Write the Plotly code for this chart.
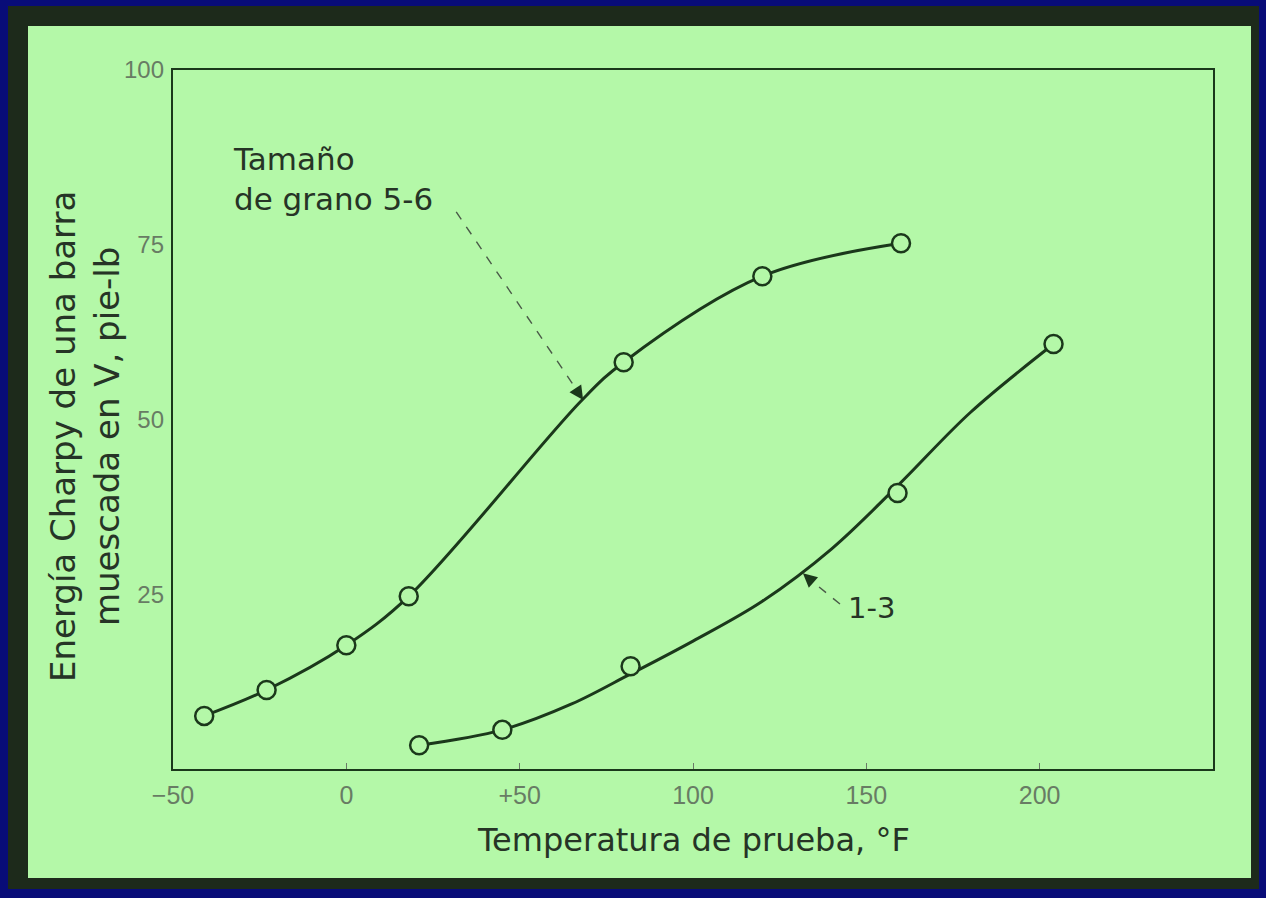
import plotly.graph_objects as go

# ---- data ----
# measured points
temp_5_6 = [-41, -23, 0, 18, 80, 120, 160]
energy_5_6 = [7.6, 11.3, 17.7, 24.7, 58.2, 70.5, 75.2]

temp_1_3 = [21, 45, 82, 159, 204]
energy_1_3 = [3.4, 5.6, 14.7, 39.5, 60.8]

# hand-drawn smooth curves
curve_t_5_6 = [-41, -23, 0, 18, 68, 80, 120, 160]
curve_e_5_6 = [7.6, 11.3, 17.7, 24.7, 52.8, 58.2, 70.5, 75.2]

curve_t_1_3 = [21, 45, 65, 82, 100, 120, 140, 159, 180, 204]
curve_e_1_3 = [3.4, 5.6, 9.3, 13.6, 18.3, 24.0, 31.5, 40.5, 51.0, 60.8]

x_ticks = [-50, 0, 50, 100, 150, 200]
x_ticklabels = ["\u221250", "0", "+50", "100", "150", "200"]
y_ticks = [25, 50, 75, 100]
y_ticklabels = ["25", "50", "75", "100"]

# ---- style ----
W, H = 1266, 898
ML, MR, MT, MB = 173, 53, 70, 129
PW, PH = W - ML - MR, H - MT - MB
NAVY = "#080c78"
GREEN = "#b4f8a8"
EDGE = "#1d2a1b"
INK = "#1b381b"
TXT = "#263426"
TICKTXT = "#687c64"
FONT = "Liberation Sans, Arial, sans-serif"
TFONT = "DejaVu Sans, Verdana, sans-serif"


def px(xp):
    return (xp - ML) / PW


def py(yp):
    return (H - MB - yp) / PH


fig = go.Figure()

for cx, cy in [(curve_t_5_6, curve_e_5_6), (curve_t_1_3, curve_e_1_3)]:
    fig.add_trace(go.Scatter(
        x=cx, y=cy, mode="lines",
        line=dict(color=INK, width=3, shape="spline", smoothing=1.0),
        showlegend=False, hoverinfo="skip"))

for xs, ys in [(temp_5_6, energy_5_6), (temp_1_3, energy_1_3)]:
    fig.add_trace(go.Scatter(
        x=xs, y=ys, mode="markers",
        marker=dict(symbol="circle", size=18, color=GREEN,
                    line=dict(color=INK, width=2.5)),
        showlegend=False, hoverinfo="x+y"))

shapes = [
    # card with dark ragged edge
    dict(type="rect", xref="paper", yref="paper", layer="below",
         x0=px(8), x1=px(1259), y0=py(889), y1=py(6),
         fillcolor=EDGE, line=dict(width=0)),
    dict(type="rect", xref="paper", yref="paper", layer="below",
         x0=px(28), x1=px(1251), y0=py(878), y1=py(26),
         fillcolor=GREEN, line=dict(width=0)),
    # dashed leader lines
    dict(type="line", xref="x", yref="y", x0=31.7, y0=79.7, x1=66.5, y1=54.2,
         line=dict(color="#4a5a48", width=1.4, dash="dash")),
    dict(type="line", xref="x", yref="y", x0=142.4, y0=23.6, x1=134.0, y1=27.0,
         line=dict(color="#4a5a48", width=1.4, dash="dash")),
]

annotations = [
    dict(text="Temperatura de prueba, \u00b0F", xref="paper", yref="paper",
         x=0.5, y=py(840), xanchor="center", yanchor="middle", showarrow=False,
         font=dict(family=TFONT, size=32, color=TXT)),
    dict(text="Energ\u00eda Charpy de una barra<br>muescada en V, pie-lb",
         xref="paper", yref="paper", x=px(85), y=py(437),
         xanchor="center", yanchor="middle", textangle=-90, showarrow=False,
         font=dict(family=TFONT, size=34, color=TXT)),
    dict(text="Tama\u00f1o<br>de grano 5-6", xref="x", yref="y",
         x=-33.4, y=84.4, xanchor="left", yanchor="middle", align="left",
         showarrow=False, font=dict(family=TFONT, size=31, color=TXT)),
    dict(text="1-3", xref="x", yref="y", x=144.0, y=23.0,
         xanchor="left", yanchor="middle", showarrow=False,
         font=dict(family=TFONT, size=29, color=TXT)),
    # arrow heads
    dict(text="", xref="x", yref="y", x=68.3, y=52.8, ax=-6, ay=-9,
         showarrow=True, arrowhead=2, arrowsize=2, arrowwidth=1.4,
         arrowcolor=INK),
    dict(text="", xref="x", yref="y", x=131.7, y=28.0, ax=8, ay=7,
         showarrow=True, arrowhead=2, arrowsize=2, arrowwidth=1.4,
         arrowcolor=INK),
]

fig.update_layout(
    width=W, height=H, autosize=False,
    margin=dict(l=ML, r=MR, t=MT, b=MB),
    paper_bgcolor=NAVY, plot_bgcolor="rgba(0,0,0,0)",
    shapes=shapes, annotations=annotations,
    font=dict(family=FONT),
)

fig.update_xaxes(
    range=[-50, 250], tickvals=x_ticks, ticktext=x_ticklabels,
    showgrid=False, zeroline=False, showline=True, mirror=True,
    linecolor=INK, linewidth=2.4, ticks="inside", ticklen=6,
    tickcolor="#6a7a68", tickwidth=1,
    tickfont=dict(family=FONT, size=25, color=TICKTXT), ticklabelstandoff=3)

fig.update_yaxes(
    range=[0, 100], tickvals=y_ticks, ticktext=y_ticklabels,
    showgrid=False, zeroline=False, showline=True, mirror=True,
    linecolor=INK, linewidth=2.4, ticks="", ticklen=0,
    tickfont=dict(family=FONT, size=24, color=TICKTXT), ticklabelstandoff=2)

fig.write_html("out.html")
